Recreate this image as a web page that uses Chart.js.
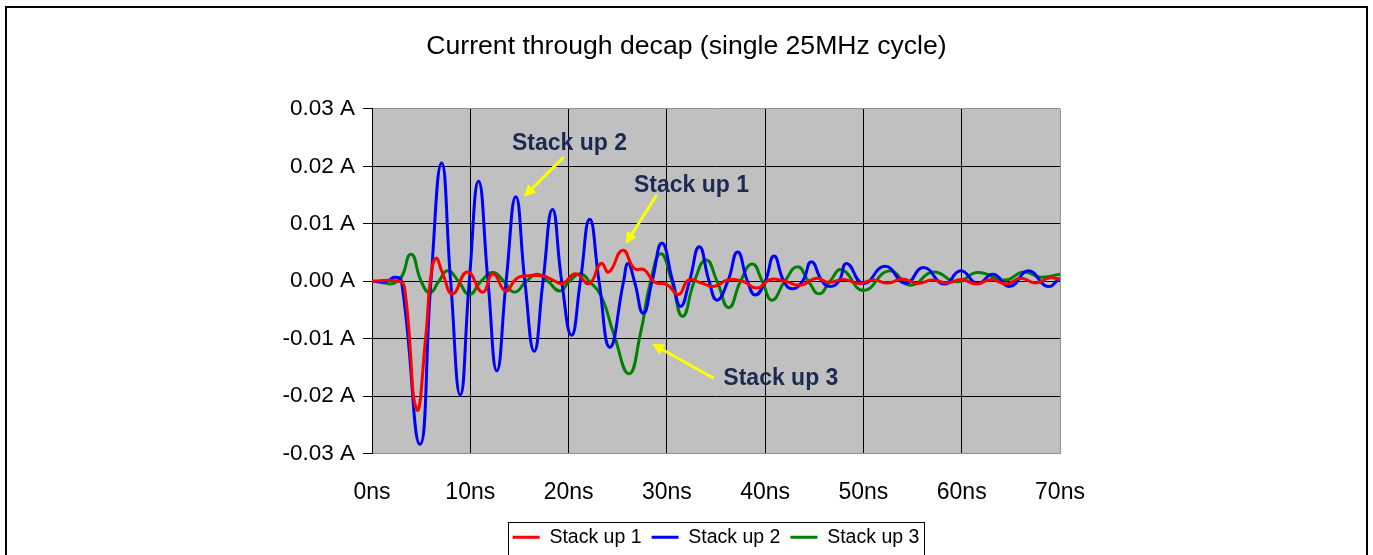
<!DOCTYPE html>
<html>
<head>
<meta charset="utf-8">
<script src="https://cdn.jsdelivr.net/npm/chart.js@4.4.1/dist/chart.umd.min.js"></script>
<style>
  html, body { margin: 0; padding: 0; background: #fff; }
  #wrap { width: 1373px; height: 555px; }
</style>
</head>
<body>
<div id="wrap"><canvas id="chart"></canvas></div>
<script>
// values, time in ns, current in mA
const seriesNames = ['Stack up 1', 'Stack up 2', 'Stack up 3'];
const seriesColors = ['#ff0000', '#0000ff', '#008000'];

const timeStack1 = [0, 2.7, 3.3, 4.54, 5.5, 5.93, 6.5, 7.18, 8.2, 9.7, 11.25, 12.3, 13.6, 14.6, 15.5, 17.4, 18.4, 19.4, 20.7, 22.1, 23.3, 24.1, 25.5, 26.7, 27.7, 28.7, 30.0, 31.2, 32.2, 33.5, 34.8, 36.2, 37.7, 39.2, 40.5, 42.0, 43.6, 45.2, 46.5, 48.0, 49.5, 51.0, 52.5, 54.0, 55.5, 57.0, 58.5, 60.0, 61.5, 63.0, 64.5, 66.0, 67.5, 69.0, 70];
const currentStack1 = [0, 0, -1, -22.3, -9.1, 0, 4.0, 1.4, -2.2, 1.6, -1.9, 1.3, -1.7, 0.3, 0.9, 0.9, 0.2, -0.4, 1.3, -0.4, 3.1, 1.6, 5.4, 2.2, 2.0, -0.1, -0.6, -2.3, 0.2, -0.3, -0.9, 0.2, 0, -1.2, 0.3, 0, -0.7, 0.5, -0.2, 0.3, -0.4, 0.2, -0.3, 0.4, -0.4, 0.2, -0.3, 0.3, -0.5, 0.3, -0.5, 0.5, -0.3, 0.6, 0.3];

const timeStack2 = [0, 1.5, 2.3, 3.0, 4.88, 6.0, 7.08, 8.0, 8.98, 9.9, 10.84, 11.8, 12.7, 13.65, 14.63, 15.55, 16.5, 17.4, 18.36, 19.3, 20.3, 21.2, 22.15, 23.1, 24.2, 25.6, 26.05, 26.7, 27.6, 28.5, 29.5, 30.6, 31.4, 32.3, 33.3, 34.3, 35.1, 36.2, 37.2, 38.2, 39.0, 40.0, 40.9, 41.9, 42.75, 43.8, 44.7, 45.8, 46.6, 47.5, 48.3, 50.0, 52.2, 54.3, 56.1, 58.2, 59.9, 61.6, 63.2, 64.9, 66.8, 68.7, 70];
const currentStack2 = [0, 0, 0.7, 0, -28.4, 0, 20.6, 0, -19.8, 0, 17.4, 0, -15.6, 0, 14.7, 0, -12.2, 0, 12.5, 0, -9.4, 0, 10.8, 0, -11.5, 0, 3.1, 0, -5.6, 0, 6.6, 0, -4.4, 0, 6.0, 0, -3.3, 0, 5.1, 0, -2.4, 0, 4.4, 0, -1.3, 0, 3.4, 0, -0.9, 0, 3.1, -0.4, 2.6, -0.4, 2.4, -0.5, 1.8, -0.4, 1.2, -0.9, 1.8, -0.9, 0.5];

const timeStack3 = [0, 2.6, 3.96, 5.0, 5.9, 6.8, 7.7, 8.8, 9.9, 11.1, 12.3, 13.4, 14.5, 15.7, 16.8, 17.9, 19.1, 20.1, 21.2, 22.1, 23.3, 24.6, 26.15, 27.3, 28.35, 29.4, 30.5, 31.6, 32.8, 34.0, 35.1, 36.3, 37.5, 38.7, 39.7, 40.7, 42.0, 43.3, 44.4, 45.5, 46.6, 47.8, 50.0, 52.6, 54.8, 57.1, 59.5, 61.6, 64.4, 66.3, 68.0, 70];
const currentStack3 = [0, 0, 4.7, 0, -2.0, 0, 1.8, 0, -2.3, 0, 1.5, 0, -1.9, 0, 1.2, 0, -1.7, 0, 1.3, 0, -2.5, -9.2, -16.1, -9.2, 0, 4.8, 0, -6.1, 0, 3.7, 0, -4.6, 0, 3.0, 0, -3.3, 0, 2.5, 0, -2.2, 0, 2.0, -1.6, 1.8, -0.7, 1.6, -0.1, 1.5, 0.2, 1.6, 0.7, 1.2];

const xTicks = [0, 10, 20, 30, 40, 50, 60, 70];
const yTicks = [-0.03, -0.02, -0.01, 0, 0.01, 0.02, 0.03];

// callouts: label, text position, arrow tail, arrow head (ns, A)
const callouts = [
    { text: 'Stack up 2', at: [20.1, 0.0239], from: [19.5, 0.0216], to: [15.45, 0.0147] },
    { text: 'Stack up 1', at: [32.5, 0.0166], from: [28.96, 0.0150], to: [25.8, 0.0065] },
    { text: 'Stack up 3', at: [41.6, -0.0169], from: [34.76, -0.0169], to: [28.5, -0.0109] }
];

const toPoints = (times, values) => times.map((t, i) => ({ x: t, y: values[i] / 1000 }));
const seriesData = [
    toPoints(timeStack1, currentStack1),
    toPoints(timeStack2, currentStack2),
    toPoints(timeStack3, currentStack3)
];

const frame = {
    id: 'frame',
    beforeDraw(chart) {
        const { ctx, chartArea: a } = chart;
        ctx.save();
        ctx.fillStyle = '#c0c0c0';
        ctx.fillRect(a.left, a.top, a.right - a.left, a.bottom - a.top);
        ctx.strokeStyle = '#000';
        ctx.lineWidth = 2;
        ctx.strokeRect(6, 7, chart.width - 12, chart.height + 20);
        ctx.restore();
    },
    afterDraw(chart) {
        const boxes = chart.legend.legendHitBoxes;
        if (!boxes || !boxes.length) return;
        const left = Math.min(...boxes.map(b => b.left));
        const right = Math.max(...boxes.map(b => b.left + b.width));
        const top = Math.min(...boxes.map(b => b.top));
        const bottom = Math.max(...boxes.map(b => b.top + b.height));
        const ctx = chart.ctx;
        ctx.save();
        ctx.strokeStyle = '#000';
        ctx.lineWidth = 1;
        ctx.strokeRect(Math.round(left - 5) + 0.5, Math.round(top - 6) + 0.5, Math.round(right - left + 9), Math.round(bottom - top + 13));
        ctx.restore();
    }
};

const notes = {
    id: 'notes',
    afterDatasetsDraw(chart) {
        const { ctx, scales: { x, y } } = chart;
        ctx.save();
        callouts.forEach(c => {
            const x1 = x.getPixelForValue(c.from[0]), y1 = y.getPixelForValue(c.from[1]);
            const x2 = x.getPixelForValue(c.to[0]), y2 = y.getPixelForValue(c.to[1]);
            const ang = Math.atan2(y2 - y1, x2 - x1);
            const head = 13;
            ctx.strokeStyle = '#ffff00';
            ctx.fillStyle = '#ffff00';
            ctx.lineWidth = 3;
            ctx.beginPath();
            ctx.moveTo(x1, y1);
            ctx.lineTo(x2 - Math.cos(ang) * head * 0.7, y2 - Math.sin(ang) * head * 0.7);
            ctx.stroke();
            ctx.beginPath();
            ctx.moveTo(x2, y2);
            ctx.lineTo(x2 - head * Math.cos(ang - 0.45), y2 - head * Math.sin(ang - 0.45));
            ctx.lineTo(x2 - head * Math.cos(ang + 0.45), y2 - head * Math.sin(ang + 0.45));
            ctx.closePath();
            ctx.fill();

            ctx.fillStyle = '#1c2a52';
            ctx.font = 'bold 23px "Liberation Sans", Arial, sans-serif';
            ctx.textAlign = 'center';
            ctx.textBaseline = 'middle';
            ctx.fillText(c.text, x.getPixelForValue(c.at[0]), y.getPixelForValue(c.at[1]));
        });
        ctx.restore();
    }
};

Chart.defaults.font.family = '"Liberation Sans", Arial, sans-serif';
Chart.defaults.color = '#000';

new Chart(document.getElementById('chart'), {
    type: 'line',
    data: {
        datasets: seriesNames.map((name, i) => ({
            label: name,
            data: seriesData[i],
            borderColor: seriesColors[i],
            backgroundColor: seriesColors[i],
            borderWidth: 3,
            pointRadius: 0,
            tension: 0.5,
            fill: false
        }))
    },
    options: {
        responsive: true,
        maintainAspectRatio: false,
        animation: false,
        layout: { padding: { bottom: -2 } },
        plugins: {
            title: {
                display: true,
                text: 'Current through decap (single 25MHz cycle)',
                font: { size: 26.6, weight: 'normal', lineHeight: 1.2 },
                padding: { top: 31, bottom: 46 }
            },
            legend: {
                position: 'bottom',
                fullSize: false,
                labels: {
                    boxWidth: 27,
                    boxHeight: 3,
                    padding: 10,
                    font: { size: 19.5 },
                    generateLabels: chart => Chart.defaults.plugins.legend.labels.generateLabels(chart).map(l => ({ ...l, lineWidth: 0 }))
                }
            },
            tooltip: { enabled: false }
        },
        scales: {
            x: {
                type: 'linear',
                min: 0,
                max: 70,
                afterBuildTicks: s => { s.ticks = xTicks.map(v => ({ value: v })); },
                afterFit: s => { s.height = 64; },
                ticks: {
                    font: { size: 23 },
                    padding: 25,
                    maxRotation: 0,
                    callback: v => v + 'ns'
                },
                grid: {
                    drawTicks: false,
                    color: ctx => (ctx.tick && ctx.tick.value === 70) ? '#909090' : '#000'
                },
                border: { color: '#909090', width: 1 }
            },
            y: {
                min: -0.03,
                max: 0.03,
                afterBuildTicks: s => { s.ticks = yTicks.map(v => ({ value: v })); },
                afterFit: s => { s.width = 372; },
                ticks: {
                    font: { size: 22.5 },
                    padding: 8,
                    callback: v => v.toFixed(2) + ' A'
                },
                grid: {
                    tickLength: 9,
                    tickColor: '#000',
                    color: ctx => (ctx.tick && Math.abs(ctx.tick.value) > 0.029) ? '#909090' : '#000'
                },
                border: { color: '#000', width: 1 }
            },
            spacer: {
                type: 'linear',
                position: 'right',
                display: true,
                afterFit: s => { s.width = 313; },
                ticks: { display: false },
                grid: { display: false, drawTicks: false },
                border: { display: false }
            }
        }
    },
    plugins: [frame, notes]
});
</script>
</body>
</html>
